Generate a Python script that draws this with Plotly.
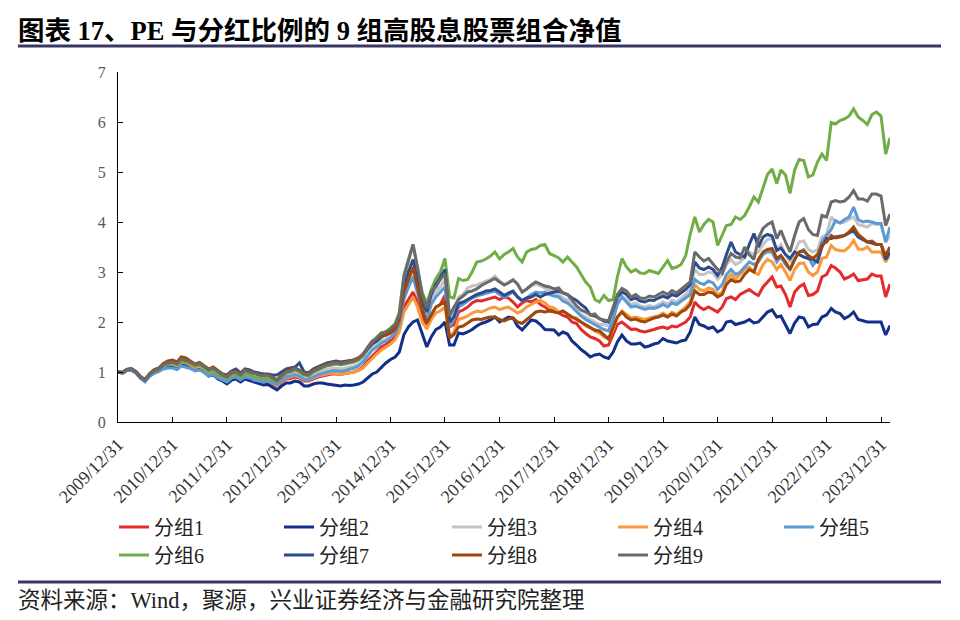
import pandas as pd
import plotly.graph_objects as go

# monthly net values, 2009/12 .. 2024/02
dates = pd.date_range("2009-12-31", periods=171, freq="ME")
tick_vals = [f"{y}-12-31" for y in range(2009, 2024)]
tick_text = [f"{y}/12/31" for y in range(2009, 2024)]

g1 = [1.00, 0.98, 1.04, 1.05, 0.99, 0.89, 0.83, 0.94, 1.00, 1.04, 1.10, 1.14,
      1.14, 1.10, 1.18, 1.16, 1.12, 1.07, 1.09, 1.04, 0.96, 1.00, 0.90, 0.86,
      0.80, 0.88, 0.90, 0.84, 0.90, 0.88, 0.84, 0.80, 0.78, 0.80, 0.75, 0.70,
      0.80, 0.86, 0.87, 0.90, 0.88, 0.82, 0.82, 0.86, 0.90, 0.92, 0.94, 0.96,
      0.96, 0.95, 0.97, 0.98, 1.00, 1.04, 1.10, 1.22, 1.32, 1.40, 1.50, 1.55,
      1.62, 1.72, 1.90, 2.30, 2.45, 2.60, 2.40, 2.10, 1.95, 2.15, 2.30, 2.35,
      2.53, 1.90, 1.95, 2.20, 2.24, 2.30, 2.38, 2.43, 2.42, 2.45, 2.48, 2.50,
      2.45, 2.50, 2.48, 2.40, 2.30, 2.38, 2.43, 2.40, 2.45, 2.35, 2.30, 2.24,
      2.24, 2.18, 2.13, 2.10, 2.00, 1.97, 1.85, 1.77, 1.70, 1.67, 1.62, 1.52,
      1.54, 1.75, 1.95, 2.00, 1.92, 1.85, 1.86, 1.82, 1.80, 1.82, 1.85, 1.88,
      1.90, 1.87, 1.92, 1.90, 1.95, 2.00, 2.10, 2.40, 2.30, 2.25, 2.30, 2.25,
      2.20, 2.30, 2.47, 2.50, 2.45, 2.55, 2.60, 2.65, 2.58, 2.53, 2.70, 2.80,
      2.90, 2.70, 2.72, 2.55, 2.30, 2.60, 2.70, 2.76, 2.53, 2.55, 2.62, 2.90,
      2.95, 3.13, 3.08, 3.00, 2.86, 2.90, 2.96, 2.83, 2.85, 2.86, 2.96, 2.92,
      2.92, 2.50, 2.76]

g2 = [1.00, 0.98, 1.03, 1.04, 0.98, 0.88, 0.82, 0.92, 0.98, 1.02, 1.08, 1.10,
      1.10, 1.07, 1.14, 1.12, 1.08, 1.03, 1.05, 1.00, 0.92, 0.95, 0.86, 0.82,
      0.76, 0.84, 0.86, 0.80, 0.86, 0.83, 0.80, 0.76, 0.74, 0.75, 0.70, 0.64,
      0.72, 0.78, 0.78, 0.82, 0.80, 0.72, 0.72, 0.76, 0.78, 0.78, 0.76, 0.75,
      0.74, 0.72, 0.74, 0.73, 0.74, 0.76, 0.80, 0.88, 0.96, 1.00, 1.10, 1.18,
      1.25, 1.30, 1.40, 1.75, 1.90, 2.00, 2.04, 1.75, 1.50, 1.70, 1.85, 1.90,
      2.00, 1.54, 1.54, 1.78, 1.76, 1.80, 1.85, 1.92, 1.97, 2.00, 2.04, 2.10,
      2.00, 2.05, 2.10, 2.08, 1.92, 1.84, 1.95, 2.04, 2.02, 1.95, 1.85, 1.84,
      1.84, 1.74, 1.80, 1.76, 1.62, 1.54, 1.45, 1.38, 1.30, 1.34, 1.36, 1.30,
      1.27, 1.40, 1.60, 1.74, 1.62, 1.56, 1.56, 1.58, 1.50, 1.52, 1.56, 1.58,
      1.67, 1.62, 1.60, 1.58, 1.62, 1.64, 1.80, 2.10, 1.95, 1.92, 1.87, 1.90,
      1.80, 1.85, 2.00, 2.02, 1.95, 1.98, 2.00, 2.05, 1.98, 2.00, 2.10, 2.20,
      2.24, 2.10, 2.12, 1.95, 1.77, 1.98, 2.10, 2.08, 1.90, 1.95, 1.96, 2.10,
      2.14, 2.27, 2.20, 2.17, 2.07, 2.12, 2.20, 2.05, 2.02, 2.00, 2.00, 2.00,
      2.00, 1.74, 1.93]

g3 = [1.00, 0.98, 1.04, 1.05, 0.99, 0.89, 0.83, 0.95, 1.01, 1.04, 1.12, 1.16,
      1.17, 1.13, 1.22, 1.20, 1.16, 1.10, 1.13, 1.08, 1.00, 1.04, 0.95, 0.90,
      0.86, 0.94, 0.96, 0.89, 0.96, 0.93, 0.89, 0.86, 0.84, 0.86, 0.82, 0.76,
      0.86, 0.93, 0.95, 0.98, 0.95, 0.88, 0.88, 0.94, 0.98, 1.02, 1.05, 1.07,
      1.08, 1.06, 1.08, 1.10, 1.12, 1.16, 1.24, 1.36, 1.48, 1.55, 1.62, 1.66,
      1.72, 1.82, 2.00, 2.55, 2.80, 3.00, 2.75, 2.35, 2.15, 2.45, 2.60, 2.70,
      2.85, 2.00, 2.20, 2.50, 2.55, 2.68, 2.72, 2.74, 2.78, 2.82, 2.85, 2.92,
      2.82, 2.75, 2.80, 2.85, 2.75, 2.60, 2.65, 2.72, 2.76, 2.72, 2.68, 2.62,
      2.58, 2.55, 2.48, 2.44, 2.33, 2.25, 2.15, 2.10, 2.05, 2.00, 1.95, 1.95,
      1.92, 2.15, 2.40, 2.52, 2.45, 2.35, 2.38, 2.32, 2.30, 2.33, 2.30, 2.35,
      2.40, 2.36, 2.44, 2.40, 2.48, 2.55, 2.65, 3.05, 2.95, 2.95, 3.00, 2.98,
      2.85, 2.95, 3.15, 3.25, 3.15, 3.20, 3.30, 3.40, 3.35, 3.40, 3.55, 3.65,
      3.67, 3.45, 3.55, 3.35, 3.20, 3.40, 3.60, 3.62, 3.45, 3.40, 3.45, 3.70,
      3.75, 4.10, 4.00, 3.98, 4.00, 4.05, 4.10, 3.95, 3.92, 3.90, 3.97, 3.95,
      3.95, 3.60, 3.72]

g4 = [1.00, 0.98, 1.04, 1.05, 0.99, 0.89, 0.83, 0.95, 1.01, 1.04, 1.12, 1.16,
      1.16, 1.12, 1.20, 1.18, 1.14, 1.09, 1.11, 1.06, 0.98, 1.02, 0.93, 0.88,
      0.82, 0.90, 0.93, 0.86, 0.93, 0.90, 0.86, 0.83, 0.80, 0.82, 0.78, 0.72,
      0.82, 0.88, 0.90, 0.93, 0.90, 0.84, 0.84, 0.88, 0.92, 0.94, 0.96, 0.98,
      0.97, 0.95, 0.97, 0.98, 1.00, 1.03, 1.08, 1.18, 1.28, 1.36, 1.44, 1.50,
      1.56, 1.65, 1.80, 2.20, 2.35, 2.50, 2.30, 2.00, 1.86, 2.05, 2.18, 2.22,
      2.30, 1.70, 1.80, 2.05, 2.08, 2.12, 2.18, 2.22, 2.20, 2.24, 2.28, 2.30,
      2.25, 2.28, 2.30, 2.24, 2.18, 2.22, 2.30, 2.35, 2.40, 2.43, 2.38, 2.30,
      2.28, 2.20, 2.22, 2.16, 2.10, 2.08, 2.00, 1.92, 1.88, 1.82, 1.78, 1.70,
      1.66, 1.85, 2.10, 2.22, 2.15, 2.08, 2.10, 2.08, 2.05, 2.08, 2.10, 2.12,
      2.18, 2.12, 2.20, 2.15, 2.22, 2.30, 2.40, 2.75, 2.65, 2.62, 2.68, 2.65,
      2.55, 2.60, 2.85, 2.95, 2.85, 2.95, 3.05, 3.10, 3.00, 2.95, 3.15, 3.25,
      3.20, 3.05, 3.15, 3.00, 2.83, 3.05, 3.17, 3.18, 3.00, 2.93, 3.00, 3.27,
      3.30, 3.53, 3.45, 3.43, 3.42, 3.50, 3.63, 3.46, 3.45, 3.50, 3.40, 3.40,
      3.40, 3.20, 3.35]

g5 = [1.00, 0.97, 1.03, 1.04, 0.98, 0.87, 0.80, 0.92, 0.98, 1.01, 1.06, 1.08,
      1.08, 1.05, 1.12, 1.10, 1.07, 1.02, 1.04, 0.99, 0.92, 0.96, 0.88, 0.84,
      0.80, 0.88, 0.90, 0.84, 0.90, 0.88, 0.84, 0.82, 0.80, 0.82, 0.78, 0.74,
      0.84, 0.90, 0.92, 0.95, 0.92, 0.85, 0.85, 0.90, 0.94, 0.97, 1.00, 1.02,
      1.03, 1.01, 1.03, 1.05, 1.08, 1.12, 1.20, 1.32, 1.44, 1.50, 1.58, 1.62,
      1.68, 1.78, 1.95, 2.45, 2.70, 2.90, 2.60, 2.25, 2.05, 2.35, 2.50, 2.60,
      2.70, 1.90, 2.05, 2.30, 2.35, 2.42, 2.48, 2.52, 2.55, 2.58, 2.60, 2.62,
      2.55, 2.50, 2.55, 2.60, 2.50, 2.42, 2.48, 2.55, 2.60, 2.58, 2.60, 2.55,
      2.52, 2.50, 2.42, 2.38, 2.30, 2.20, 2.12, 2.05, 2.00, 1.95, 1.90, 1.85,
      1.82, 2.05, 2.35, 2.50, 2.40, 2.30, 2.32, 2.28, 2.25, 2.28, 2.27, 2.30,
      2.35, 2.30, 2.38, 2.35, 2.42, 2.48, 2.55, 2.85, 2.78, 2.75, 2.82, 2.78,
      2.65, 2.75, 2.95, 3.05, 2.95, 3.00, 3.10, 3.20, 3.15, 3.20, 3.35, 3.40,
      3.40, 3.20, 3.30, 3.15, 3.05, 3.25, 3.40, 3.45, 3.30, 3.13, 3.25, 3.60,
      3.73, 3.85, 4.03, 3.98, 4.05, 4.10, 4.30, 4.05, 4.00, 4.02, 4.00, 3.97,
      3.97, 3.60, 3.90]

g6 = [1.00, 1.00, 1.05, 1.07, 1.00, 0.90, 0.84, 0.95, 1.02, 1.05, 1.12, 1.16,
      1.18, 1.14, 1.22, 1.20, 1.17, 1.12, 1.14, 1.08, 1.00, 1.05, 0.95, 0.90,
      0.86, 0.94, 0.96, 0.88, 0.97, 0.95, 0.90, 0.88, 0.86, 0.88, 0.84, 0.80,
      0.90, 0.98, 1.00, 1.04, 1.00, 0.94, 0.92, 1.00, 1.04, 1.08, 1.12, 1.14,
      1.16, 1.14, 1.16, 1.18, 1.20, 1.24, 1.32, 1.46, 1.60, 1.70, 1.78, 1.80,
      1.88, 1.96, 2.20, 2.95, 3.25, 3.55, 3.05, 2.60, 2.37, 2.65, 2.87, 3.00,
      3.27, 2.50, 2.48, 2.87, 2.83, 2.85, 3.00, 3.20, 3.22, 3.26, 3.32, 3.40,
      3.26, 3.35, 3.40, 3.47, 3.30, 3.20, 3.40, 3.45, 3.47, 3.53, 3.55, 3.37,
      3.33, 3.28, 3.20, 3.30, 3.20, 3.10, 2.95, 2.80, 2.70, 2.45, 2.40, 2.53,
      2.43, 2.45, 2.90, 3.27, 3.10, 3.00, 3.05, 2.98, 2.97, 3.03, 3.00, 2.97,
      3.10, 3.23, 3.07, 3.10, 3.15, 3.33, 3.75, 4.10, 3.80, 3.95, 4.05, 4.00,
      3.53, 3.75, 3.93, 3.95, 4.10, 4.05, 4.13, 4.30, 4.50, 4.40, 4.70, 4.95,
      5.06, 4.77, 5.04, 4.94, 4.57, 5.04, 5.25, 5.23, 4.90, 4.94, 5.20, 5.36,
      5.23, 5.99, 5.96, 6.03, 6.06, 6.12, 6.26, 6.10, 6.03, 5.95, 6.15, 6.20,
      6.12, 5.36, 5.68]

g7 = [1.00, 0.99, 1.05, 1.06, 1.00, 0.90, 0.84, 0.96, 1.03, 1.06, 1.16, 1.20,
      1.22, 1.18, 1.28, 1.26, 1.20, 1.15, 1.18, 1.12, 1.05, 1.09, 1.02, 0.96,
      0.94, 1.02, 1.06, 0.98, 1.06, 1.04, 1.00, 0.98, 0.96, 0.96, 0.94, 0.94,
      1.00, 1.06, 1.08, 1.10, 1.18, 1.00, 0.98, 1.06, 1.10, 1.14, 1.18, 1.20,
      1.22, 1.20, 1.21, 1.22, 1.24, 1.28, 1.35, 1.46, 1.56, 1.62, 1.70, 1.74,
      1.80, 1.90, 2.10, 2.70, 3.00, 3.25, 2.85, 2.40, 2.20, 2.55, 2.75, 2.90,
      3.05, 2.00, 2.10, 2.37, 2.40, 2.45, 2.50, 2.55, 2.58, 2.62, 2.63, 2.66,
      2.60, 2.53, 2.58, 2.62, 2.50, 2.43, 2.48, 2.50, 2.55, 2.50, 2.55, 2.58,
      2.60, 2.62, 2.58, 2.55, 2.48, 2.43, 2.35, 2.28, 2.14, 2.12, 2.07, 2.02,
      2.00, 2.25, 2.50, 2.60, 2.55, 2.45, 2.48, 2.42, 2.40, 2.44, 2.43, 2.48,
      2.52, 2.48, 2.55, 2.52, 2.58, 2.65, 2.75, 3.20, 3.08, 3.05, 3.10, 3.05,
      2.93, 3.10, 3.35, 3.60, 3.40, 3.35, 3.30, 3.55, 3.77, 3.50, 3.70, 3.75,
      3.72, 3.43, 3.48, 3.35, 3.27, 3.40, 3.35, 3.30, 3.27, 3.25, 3.20, 3.50,
      3.67, 3.67, 3.70, 3.72, 3.73, 3.78, 3.82, 3.70, 3.65, 3.60, 3.58, 3.55,
      3.55, 3.25, 3.40]

g8 = [1.00, 0.99, 1.05, 1.07, 1.01, 0.91, 0.85, 0.97, 1.05, 1.08, 1.17, 1.22,
      1.24, 1.20, 1.30, 1.28, 1.22, 1.16, 1.19, 1.13, 1.06, 1.10, 1.02, 0.96,
      0.92, 1.00, 1.02, 0.96, 1.04, 1.01, 0.97, 0.95, 0.93, 0.95, 0.90, 0.84,
      0.94, 1.02, 1.04, 1.08, 1.04, 0.98, 0.96, 1.04, 1.08, 1.12, 1.16, 1.18,
      1.20, 1.18, 1.20, 1.22, 1.24, 1.28, 1.36, 1.50, 1.62, 1.66, 1.72, 1.74,
      1.78, 1.85, 2.05, 2.60, 2.85, 3.10, 2.70, 2.25, 1.98, 2.15, 2.30, 2.35,
      2.40, 1.68, 1.75, 1.90, 1.92, 1.98, 2.04, 2.06, 2.05, 2.08, 2.10, 2.10,
      2.05, 2.02, 2.06, 2.08, 2.00, 1.97, 2.05, 2.12, 2.20, 2.22, 2.20, 2.22,
      2.20, 2.18, 2.22, 2.15, 2.10, 2.05, 2.00, 1.95, 1.90, 1.84, 1.82, 1.74,
      1.66, 1.90, 2.10, 2.20, 2.10, 2.04, 2.06, 2.02, 2.00, 2.04, 2.08, 2.10,
      2.14, 2.10, 2.16, 2.12, 2.20, 2.25, 2.35, 2.62, 2.55, 2.55, 2.60, 2.58,
      2.50, 2.55, 2.75, 2.85, 2.80, 2.82, 2.95, 3.05, 3.00, 3.25, 3.40, 3.45,
      3.47, 3.27, 3.33, 3.20, 3.05, 3.25, 3.40, 3.42, 3.33, 3.27, 3.35, 3.55,
      3.60, 3.73, 3.68, 3.70, 3.73, 3.80, 3.90, 3.75, 3.67, 3.60, 3.62, 3.55,
      3.55, 3.33, 3.50]

g9 = [1.00, 0.99, 1.04, 1.06, 1.00, 0.90, 0.84, 0.96, 1.03, 1.06, 1.14, 1.18,
      1.20, 1.16, 1.26, 1.23, 1.20, 1.14, 1.17, 1.12, 1.04, 1.08, 1.00, 0.94,
      0.90, 0.98, 1.00, 0.94, 1.03, 1.00, 0.96, 0.94, 0.92, 0.94, 0.88, 0.82,
      0.92, 1.00, 1.02, 1.06, 1.02, 0.96, 0.94, 1.02, 1.06, 1.10, 1.14, 1.16,
      1.18, 1.16, 1.18, 1.20, 1.22, 1.26, 1.34, 1.48, 1.60, 1.68, 1.78, 1.80,
      1.86, 1.95, 2.15, 2.90, 3.20, 3.55, 3.10, 2.55, 2.28, 2.62, 2.70, 2.85,
      2.97, 2.12, 2.30, 2.45, 2.52, 2.60, 2.62, 2.66, 2.73, 2.78, 2.82, 2.87,
      2.80, 2.74, 2.78, 2.84, 2.76, 2.60, 2.66, 2.74, 2.80, 2.76, 2.72, 2.70,
      2.66, 2.68, 2.58, 2.55, 2.44, 2.32, 2.24, 2.20, 2.14, 2.16, 2.06, 2.04,
      2.02, 2.30, 2.55, 2.67, 2.62, 2.50, 2.55, 2.48, 2.47, 2.52, 2.50, 2.55,
      2.60, 2.55, 2.63, 2.58, 2.66, 2.73, 2.80, 3.40, 3.30, 3.22, 3.27, 3.15,
      3.05, 2.97, 3.20, 3.37, 3.30, 3.28, 3.50, 3.35, 3.25, 3.67, 3.87, 3.95,
      4.00, 3.67, 3.83, 3.60, 3.40, 3.73, 4.00, 4.07, 3.85, 3.75, 3.73, 4.13,
      4.10, 4.40, 4.43, 4.40, 4.42, 4.50, 4.63, 4.46, 4.46, 4.42, 4.56, 4.56,
      4.52, 3.93, 4.16]

series = [g1, g2, g3, g4, g5, g6, g7, g8, g9]
names = ["分组1", "分组2", "分组3", "分组4", "分组5", "分组6", "分组7", "分组8", "分组9"]
colors = ["#E42A2A", "#12308A", "#C4C4C4", "#F9993A", "#5B9BD5",
          "#70AD47", "#2E4C8C", "#9E480E", "#6B6B6B"]

SERIF = "Liberation Serif, Noto Sans CJK SC, serif"

# the page body adds an 8px margin, so the figure is laid out 8px up/left
OFF = 8
FW, FH = 960 - OFF, 620 - OFF

# plot area in page pixels: x 118..890, y 72..422
L, R, T, B = 118 - OFF, 890 - OFF, 72 - OFF, 422 - OFF
W, H = R - L, B - T


def px(x):
    return (x - OFF - L) / W


def py(y):
    return (B - (y - OFF)) / H


# legend grid: 5 columns, 2 rows (page pixels)
leg_cols = [114, 279, 447, 613, 779]
leg_rows = [527, 555]

fig = go.Figure()
layout_legends = {}
for i, (vals, name, col) in enumerate(zip(series, names, colors)):
    key = "legend" if i == 0 else f"legend{i + 1}"
    fig.add_trace(go.Scatter(
        x=dates, y=vals, name=name, mode="lines",
        line=dict(color=col, width=3), legend=key,
    ))
    layout_legends[key] = dict(
        xref="container", yref="container",
        x=(leg_cols[i % 5] - OFF) / FW, y=1 - (leg_rows[i // 5] - OFF) / FH,
        xanchor="left", yanchor="middle", orientation="h",
        font=dict(family=SERIF, size=20, color="#222222"),
        bgcolor="rgba(0,0,0,0)", borderwidth=0,
    )

fig.update_layout(
    width=FW, height=FH,
    margin=dict(l=L, r=FW - R, t=T, b=FH - B),
    paper_bgcolor="white", plot_bgcolor="white",
    showlegend=True,
    xaxis=dict(
        type="date", range=["2009-12-31", "2024-02-29"],
        tickvals=tick_vals, ticktext=tick_text, tickangle=-45,
        ticks="inside", ticklen=5, tickcolor="#000000",
        showline=True, linecolor="#000000", linewidth=1,
        showgrid=False, zeroline=False, automargin=False,
        ticklabelstandoff=4,
        tickfont=dict(family=SERIF, size=18, color="#333333"),
    ),
    yaxis=dict(
        range=[0, 7], tickvals=list(range(0, 8)),
        ticks="inside", ticklen=5, tickcolor="#000000",
        showline=True, linecolor="#000000", linewidth=1,
        showgrid=False, zeroline=False, automargin=False,
        ticklabelstandoff=8,
        tickfont=dict(family=SERIF, size=16, color="#595959"),
    ),
    **layout_legends,
)

fig.add_annotation(
    xref="paper", yref="paper", x=px(16), y=py(31),
    xanchor="left", yanchor="middle", showarrow=False,
    text="<b>图表 17、PE 与分红比例的 9 组高股息股票组合净值</b>",
    font=dict(family=SERIF, size=26.5, color="#000000"),
)
fig.add_annotation(
    xref="paper", yref="paper", x=px(16), y=py(600),
    xanchor="left", yanchor="middle", showarrow=False,
    text="资料来源：Wind，聚源，兴业证券经济与金融研究院整理",
    font=dict(family=SERIF, size=22.5, color="#222222"),
)
for yy in (46, 582):
    fig.add_shape(type="line", xref="paper", yref="paper",
                  x0=px(18), x1=px(941), y0=py(yy), y1=py(yy),
                  line=dict(color="#363667", width=3))

fig.write_html("out.html")
